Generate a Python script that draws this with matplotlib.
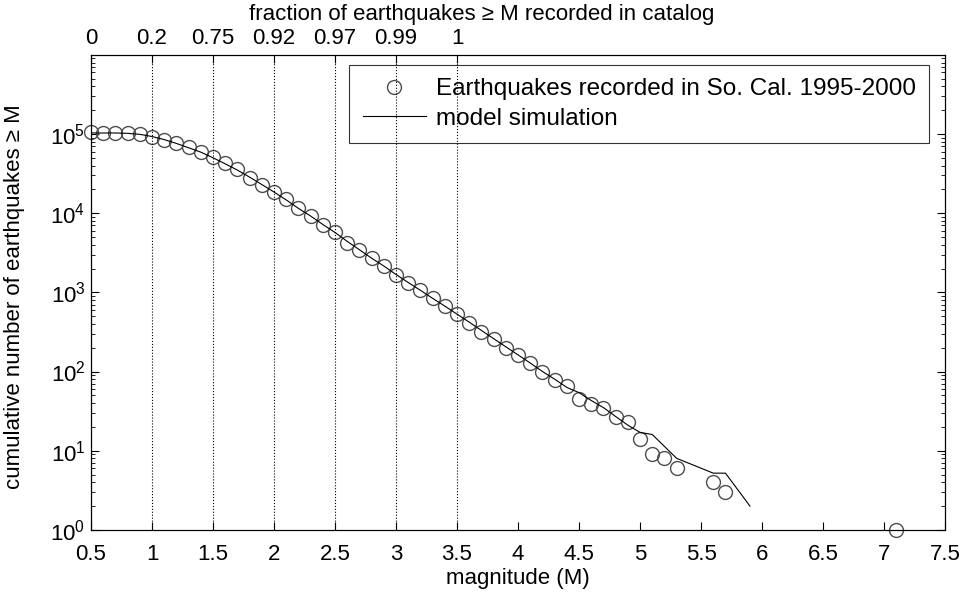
import matplotlib.pyplot as plt
from matplotlib.ticker import LogLocator, NullFormatter, FixedLocator

plt.rcParams['font.family'] = ['Liberation Sans', 'DejaVu Sans']
plt.rcParams['mathtext.fontset'] = 'custom'
plt.rcParams['mathtext.rm'] = 'Liberation Sans'
plt.rcParams['mathtext.default'] = 'regular'

# observed catalog (cumulative counts)
m_obs = [0.5, 0.6, 0.7, 0.8, 0.9, 1.0, 1.1, 1.2, 1.3, 1.4, 1.5, 1.6, 1.7, 1.8, 1.9,
         2.0, 2.1, 2.2, 2.3, 2.4, 2.5, 2.6, 2.7, 2.8, 2.9, 3.0, 3.1, 3.2, 3.3, 3.4,
         3.5, 3.6, 3.7, 3.8, 3.9, 4.0, 4.1, 4.2, 4.3, 4.4, 4.5, 4.6, 4.7, 4.8, 4.9,
         5.0, 5.1, 5.2, 5.3, 5.6, 5.7, 7.1]
n_obs = [1.06e5, 1.04e5, 1.04e5, 1.02e5, 9.9e4, 9.2e4, 8.4e4, 7.6e4, 6.8e4, 6.0e4,
         5.1e4, 4.3e4, 3.6e4, 2.8e4, 2.3e4, 1.85e4, 1.5e4, 1.15e4, 9.3e3, 7.1e3,
         5.7e3, 4.2e3, 3.4e3, 2.7e3, 2.15e3, 1.66e3, 1.33e3, 1.07e3, 840, 675,
         530, 414, 318, 257, 200, 162, 127, 100, 78, 65, 45, 39, 35, 27, 23,
         14, 9, 8, 6, 4, 3, 1]

# model simulation
m_mod = [0.5, 0.6, 0.7, 0.8, 0.9, 1.0, 1.1, 1.2, 1.3, 1.4, 1.5, 1.6, 1.7, 1.8, 1.9,
         2.0, 2.1, 2.2, 2.3, 2.4, 2.5, 2.6, 2.7, 2.8, 2.9, 3.0, 3.1, 3.2, 3.3, 3.4,
         3.5, 3.6, 3.7, 3.8, 3.9, 4.0, 4.1, 4.2, 4.3, 4.4, 4.5, 4.6, 4.7, 4.8, 4.9,
         5.0, 5.1, 5.3, 5.6, 5.7, 5.9]
n_mod = [1.03e5, 1.03e5, 1.03e5, 1.02e5, 9.9e4, 9.3e4, 8.5e4, 7.6e4, 6.7e4, 5.9e4,
         5.0e4, 4.2e4, 3.5e4, 2.85e4, 2.3e4, 1.85e4, 1.47e4, 1.15e4, 9.2e3, 7.2e3,
         5.7e3, 4.4e3, 3.45e3, 2.7e3, 2.15e3, 1.68e3, 1.33e3, 1.06e3, 840, 670,
         530, 420, 330, 260, 205, 162, 128, 100, 80, 63, 54, 43, 35, 27, 21,
         17, 16, 8, 5.2, 5.2, 2]

# top axis: fraction of earthquakes recorded
top_ticks = [0.5, 1.0, 1.5, 2.0, 2.5, 3.0, 3.5]
top_labels = ['0', '0.2', '0.75', '0.92', '0.97', '0.99', '1']

fig = plt.figure(figsize=(9.64, 5.96), dpi=100)
ax = fig.add_axes([0.0944, 0.111, 0.886, 0.797])

ax.plot(m_obs, n_obs, 'o', mfc='none', mec='0.3', ms=10, mew=1.0,
        clip_on=False, label='Earthquakes recorded in So. Cal. 1995-2000')
ax.plot(m_mod, n_mod, '-', color='black', lw=0.8, label='model simulation')

ax.set_yscale('log')
ax.set_xlim(0.5, 7.5)
ax.set_ylim(1, 1e6)
ax.set_xticks([0.5 + 0.5 * i for i in range(15)])
ax.set_xticklabels(['0.5', '1', '1.5', '2', '2.5', '3', '3.5', '4', '4.5',
                    '5', '5.5', '6', '6.5', '7', '7.5'])
ax.set_yticks([1, 10, 100, 1e3, 1e4, 1e5])
ax.set_yticklabels(['$10^{0}$', '$10^{1}$', '$10^{2}$', '$10^{3}$',
                    '$10^{4}$', '$10^{5}$'])
ax.yaxis.set_minor_locator(LogLocator(base=10, subs=range(2, 10), numticks=20))
ax.yaxis.set_minor_formatter(NullFormatter())
ax.tick_params(which='both', direction='in', top=True, right=True, labelsize=16)
ax.tick_params(axis='x', pad=10)
ax.tick_params(axis='y', pad=4)
ax.tick_params(which='major', length=6, width=0.8)
ax.tick_params(which='minor', length=3, width=0.6)
ax.set_xlabel('magnitude (M)', fontsize=16, labelpad=2)
ax.set_ylabel('cumulative number of earthquakes ≥ M', fontsize=16)
ax.yaxis.set_label_coords(-0.077, 0.49)

ax2 = ax.twiny()
ax2.set_xlim(0.5, 7.5)
ax2.xaxis.set_major_locator(FixedLocator(top_ticks))
ax2.set_xticklabels(top_labels)
ax2.tick_params(direction='in', length=6, labelsize=16, pad=4)
ax2.grid(True, axis='x', linestyle=':', color='black', lw=0.8)
fig.text(0.5, 0.975, 'fraction of earthquakes ≥ M recorded in catalog',
         fontsize=16, ha='center', va='center')

leg = ax.legend(loc='upper right', bbox_to_anchor=(0.9813, 0.9789),
                fontsize=17.5, frameon=True, fancybox=False, edgecolor='black',
                borderaxespad=0, handlelength=2.6, handletextpad=0.4,
                borderpad=0.55, labelspacing=0.3)
leg.get_frame().set_linewidth(0.8)

plt.savefig('out.png', dpi=100)
